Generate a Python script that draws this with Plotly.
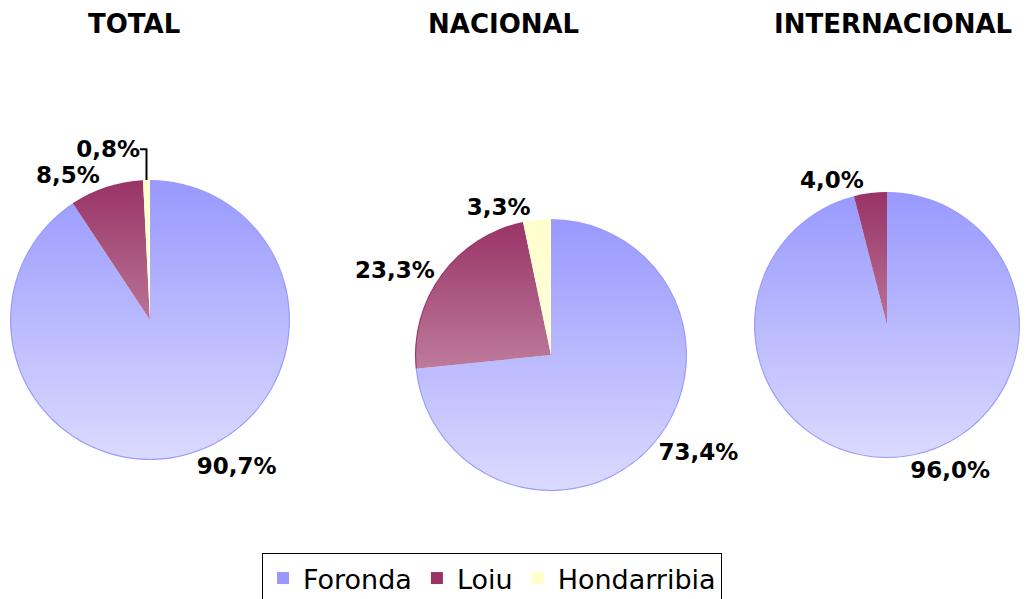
import base64
import plotly.graph_objects as go

W, H = 1031, 599

categories = ["Foronda", "Loiu", "Hondarribia"]
total_vals = [90.7, 8.5, 0.8]
nacional_vals = [73.4, 23.3, 3.3]
internacional_vals = [96.0, 4.0, 0.0]
titles = ["TOTAL", "NACIONAL", "INTERNACIONAL"]

colors = ["#9999ff", "#993366", "#ffffcc"]

# pie placement in pixels: (center x, center y, radius)
geoms = [(150, 320, 140), (551, 355, 136), (887, 325, 133)]
title_x = [134, 503, 893]
title_y = 24


def fmt(v):
    return "" if v == 0 else f"{v:.1f}".replace(".", ",") + "%"


# white vertical gradient overlay (emulates the shaded fill of the original)
svg = (
    '<svg xmlns="http://www.w3.org/2000/svg" viewBox="0 0 100 100" preserveAspectRatio="none">'
    '<defs><linearGradient id="g" x1="0" y1="0" x2="0" y2="1">'
    '<stop offset="0" stop-color="#ffffff" stop-opacity="0"/>'
    '<stop offset="1" stop-color="#ffffff" stop-opacity="0.64"/>'
    '</linearGradient></defs>'
    '<circle cx="50" cy="50" r="49.6" fill="url(#g)"/></svg>'
)
svg_uri = "data:image/svg+xml;base64," + base64.b64encode(svg.encode()).decode()

fig = go.Figure()
images = []
for vals, (cx, cy, r) in zip([total_vals, nacional_vals, internacional_vals], geoms):
    fig.add_trace(go.Pie(
        labels=categories,
        values=vals,
        text=[fmt(v) for v in vals],
        textinfo="text",
        textposition="outside",
        outsidetextfont=dict(family="DejaVu Sans", size=23, color="#000000", weight="bold"),
        sort=False,
        direction="clockwise",
        rotation=0,
        marker=dict(colors=colors, line=dict(width=0)),
        hoverinfo="label+percent",
        domain=dict(x=[(cx - r) / W, (cx + r) / W], y=[1 - (cy + r) / H, 1 - (cy - r) / H]),
        showlegend=True,
    ))
    images.append(dict(
        source=svg_uri, xref="paper", yref="paper",
        x=(cx - r) / W, y=1 - (cy - r) / H, sizex=2 * r / W, sizey=2 * r / H,
        xanchor="left", yanchor="top", sizing="stretch", layer="above",
    ))

annotations = [
    dict(text=t, x=tx / W, y=1 - title_y / H, xref="paper", yref="paper",
         showarrow=False, xanchor="center", yanchor="middle",
         font=dict(family="DejaVu Sans", size=26, color="#000000", weight="bold"))
    for t, tx in zip(titles, title_x)
]

fig.update_layout(
    width=W, height=H,
    margin=dict(l=0, r=0, t=0, b=0, autoexpand=False),
    paper_bgcolor="#ffffff",
    plot_bgcolor="#ffffff",
    images=images,
    annotations=annotations,
    legend=dict(
        orientation="h", x=492 / W, xanchor="center", y=1 - 553 / H, yanchor="top",
        bordercolor="#000000", borderwidth=1, bgcolor="#ffffff",
        font=dict(family="DejaVu Sans", size=27, color="#000000"),
        traceorder="normal",
    ),
    font=dict(family="DejaVu Sans"),
)

fig.write_html(
    "out.html",
    config={"displayModeBar": False},
    post_script="document.body.style.margin='0px';document.body.style.overflow='hidden';",
)
